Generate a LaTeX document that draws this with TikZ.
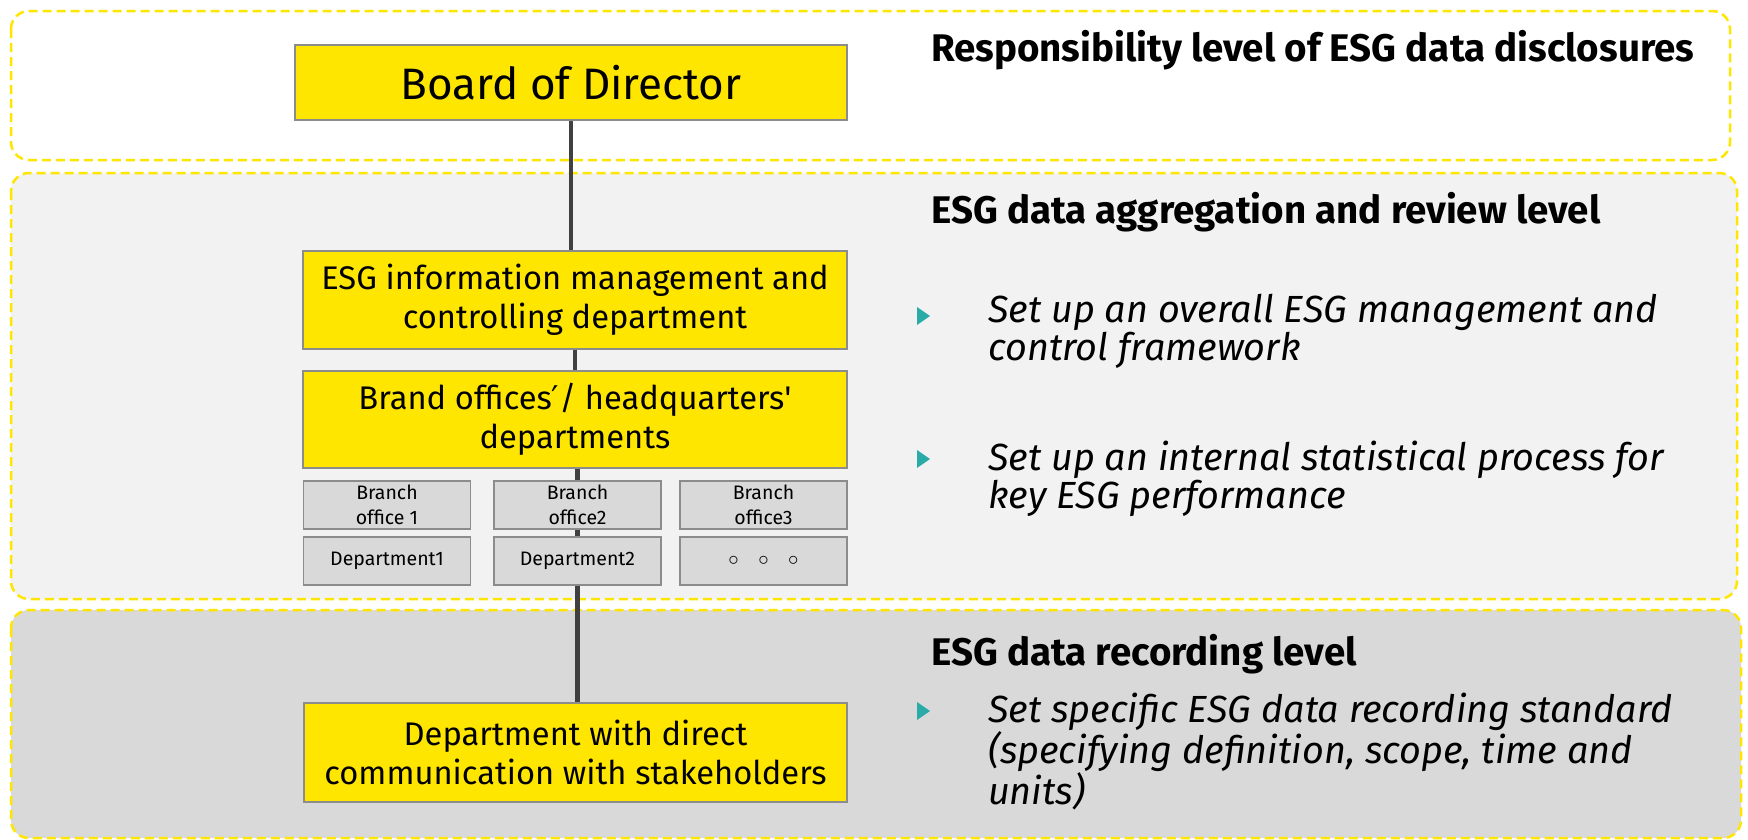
\documentclass[tikz,border=0pt]{standalone}
\usepackage{fontspec}
\setmainfont{Fira Sans}
\newfontfamily\djvfont{DejaVu Sans}
\definecolor{eyyellow}{HTML}{FFE600}
\definecolor{boxgray}{HTML}{8C8C8C}
\definecolor{linegray}{HTML}{404040}
\definecolor{panelmid}{HTML}{F2F2F2}
\definecolor{panellow}{HTML}{D9D9D9}
\definecolor{cellgray}{HTML}{D9D9D9}
\definecolor{bulteal}{HTML}{2AABA8}
\begin{document}
\begin{tikzpicture}[x=1pt,y=-1pt,
  panel/.style={draw=eyyellow, line width=2.5pt, dash pattern=on 9pt off 5pt, rounded corners=18pt},
  ybox/.style={draw=boxgray, line width=1.5pt, fill=eyyellow, inner sep=0pt, align=center, font=\fontsize{32.7}{39}\selectfont},
  gbox/.style={draw=boxgray, line width=1.5pt, fill=cellgray, inner sep=0pt, align=center, minimum width=167pt, minimum height=48pt, font=\fontsize{19.5}{25}\selectfont},
  link/.style={draw=linegray, line width=4.5pt},
  head/.style={anchor=west, font=\bfseries\fontsize{38.5}{44}\selectfont, inner sep=0pt},
  item/.style={anchor=north west, align=left, font=\itshape\fontsize{37.8}{38}\selectfont, inner sep=0pt},
  bul/.style={fill=bulteal, draw=none}
]
\useasboundingbox (0,0) rectangle (1748,839);
\fill[white] (0,0) rectangle (1748,839);
% panels
\draw[panel, fill=white] (11,11) rectangle (1730,160);
\draw[panel, fill=panelmid] (11,173) rectangle (1737,599);
\draw[panel, fill=panellow] (11,610) rectangle (1741,838);

% boxes
\node[ybox, minimum width=552pt, minimum height=75pt, font=\fontsize{44}{50}\selectfont] (board) at (571,82.5) {Board of Director};
\node[ybox, minimum width=544pt, minimum height=98pt] (info) at (575,300) {ESG information management and\\controlling department};
\node[ybox, minimum width=544pt, minimum height=97pt] (brand) at (575,419.5) {Brand offices{\djvfont ′}/ headquarters\textquotesingle\\departments};
\node[gbox] (b1) at (387,505) {Branch\\office 1};
\node[gbox] (b2) at (577.5,505) {Branch\\office2};
\node[gbox] (b3) at (763.5,505) {Branch\\office3};
\node[gbox] (d1) at (387,561) {\raisebox{-4pt}{Department1}};
\node[gbox] (d2) at (577.5,561) {Department2};
\node[gbox] (d3) at (763.5,561) {$\circ$\quad$\circ$\quad$\circ$};
\node[ybox, minimum width=543pt, minimum height=99pt] (direct) at (575.5,752.5) {Department with direct\\communication with stakeholders};

% connectors
\draw[link] (board.south) -- (board.south |- info.north);
\draw[link] (info.south) -- (info.south |- brand.north);
\draw[link] (brand.south -| b2.north) -- (b2.north);
\draw[link] (b2.south) -- (d2.north);
\draw[link] (d2.south) -- (d2.south |- direct.north);

% right texts
\node[head] (h1) at (931,50) {Responsibility level of ESG data disclosures};
\node[head] (h2) at (931,212) {ESG data aggregation and review level};
\node[head] (h3) at (931,654) {ESG data recording level};

\fill[bul] (917,307) -- (930,316) -- (917,325) -- cycle;
\node[item] (i1) at (988,293.5) {Set up an overall ESG management and\\control framework};
\fill[bul] (917,450) -- (930,459) -- (917,468) -- cycle;
\node[item] (i2) at (988,440.5) {Set up an internal statistical process for\\key ESG performance};
\fill[bul] (917,702) -- (930,711) -- (917,720) -- cycle;
\node[item] (i3) at (988,692.5) {Set specific ESG data recording standard\\(specifying definition, scope, time and\\units)};
\end{tikzpicture}
\end{document}
